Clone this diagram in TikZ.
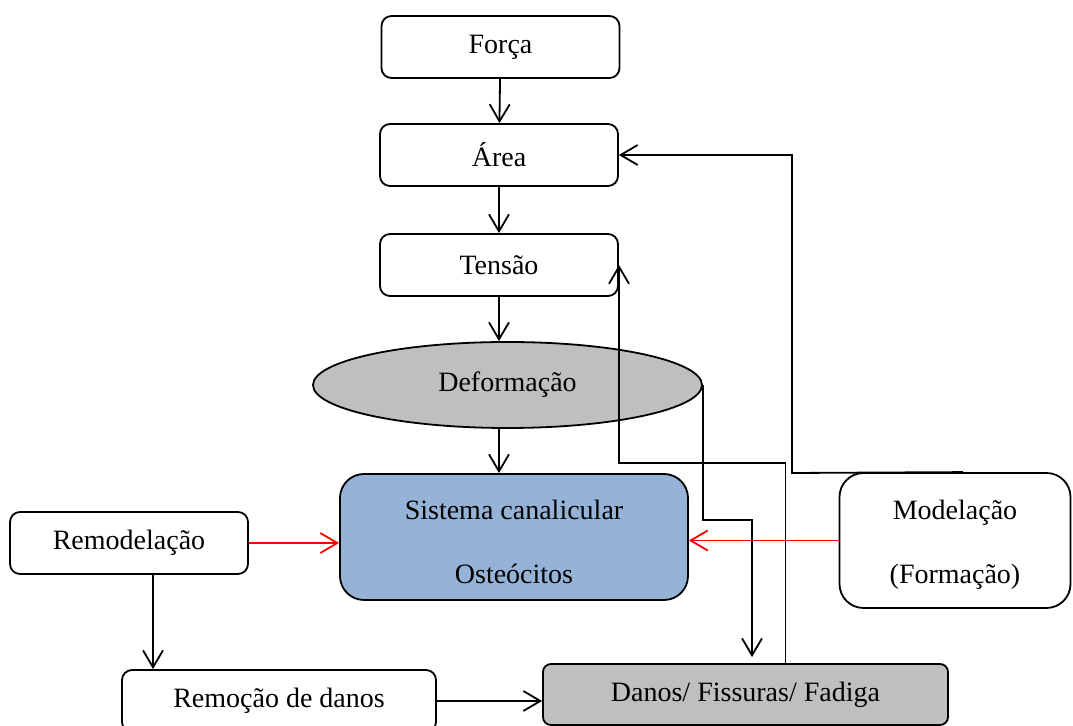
\documentclass[tikz,border=0pt]{standalone}
\usepackage{fontspec}
\setmainfont{Liberation Serif}
\usetikzlibrary{arrows.meta, shapes.geometric}
\definecolor{azulcanal}{RGB}{149,179,215}
\definecolor{cinzadano}{RGB}{191,191,191}

\begin{document}
\begin{tikzpicture}[x=0.5pt, y=-0.5pt,
  caixa/.style={draw, rounded corners=5pt, line width=0.9pt, inner sep=0pt,
    font=\fontsize{14}{17}\selectfont, align=center,
    minimum width=119pt, minimum height=31pt},
  seta/.style={-{Straight Barb[length=8.5pt, width=10pt]}, line width=0.9pt},
  setav/.style={seta, red}]
  \path[use as bounding box, clip] (0,0) rectangle (1073,726);
  % Cadeia principal
  \node[caixa] (forca) at (500.5,47) {Força};
  \node[caixa] (area) at (499,155) {Área};
  \node[caixa] (tensao) at (499,265) {Tensão};
  \node[caixa, ellipse, rounded corners=0pt, fill=cinzadano,
    minimum width=194.5pt, minimum height=43pt] (deform) at (507.5,385) {Deformação};
  \node[caixa, fill=azulcanal, rounded corners=12pt,
    minimum width=174pt, minimum height=63pt] (sistema) at (514,537)
    {\rule{0pt}{15pt}Sistema canalicular\\[15pt]Osteócitos};
  % Caixas laterais
  \node[caixa] (remod) at (129,543) {Remodelação};
  \node[caixa, rounded corners=12pt, minimum width=115.5pt, minimum height=67.5pt]
    (model) at (955,540.5) {\rule{0pt}{13.5pt}Modelação\\[15pt](Formação)};
  \node[caixa, minimum width=157pt] (remocao) at (279,701) {Remoção de danos};
  \node[caixa, fill=cinzadano, rounded corners=4pt, minimum width=202.5pt,
    minimum height=30.5pt] (danos) at (745.5,694.5) {Danos/ Fissuras/ Fadiga};
  % Pontos de dobra
  \coordinate (dobraA) at (792,473);
  \coordinate (dobraT) at (619,463);
  \coordinate (dobraD) at (752,520);
  % Setas verticais
  \draw[seta] (forca) -- (area);
  \draw[seta] (area) -- (tensao);
  \draw[seta] (tensao.south) -- (tensao.south |- deform.north);
  \draw[seta] (tensao.south |- deform.south) -- (tensao.south |- sistema.north);
  % Setas vermelhas
  \draw[setav] (remod.east) -- (remod.east -| sistema.west);
  \draw[setav] (model.west) -- (model.west -| sistema.east);
  % Danos
  \draw[seta] ([xshift=12pt]remod.south) -- ([xshift=12pt]remod.south |- remocao.north);
  \draw[seta] (remocao.east) -- (remocao.east -| danos.west);
  \draw[seta] (deform.east) |- (dobraD) -- ([yshift=3pt]dobraD |- danos.north);
  % Realimentacoes
  \draw[seta] ([xshift=4pt]model.north) -- (dobraA) |- (area.east);
  \draw[seta] ([xshift=20pt]danos.north) |- (dobraT) -- (dobraT |- tensao.east);
\end{tikzpicture}
\end{document}
